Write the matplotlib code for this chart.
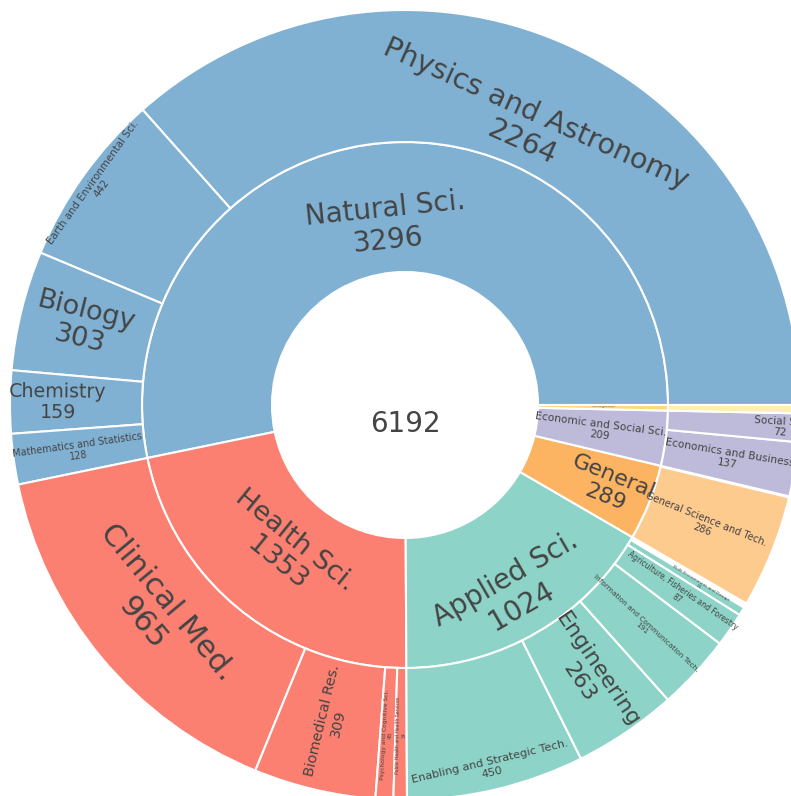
"""Sunburst of research output by field and subfield."""
import matplotlib.pyplot as plt
from matplotlib.patches import Wedge
import numpy as np

# %% Data
fields = [
    "Natural Sci.",
    "Health Sci.",
    "Applied Sci.",
    "General",
    "Economic and Social Sci.",
    "Arts and Humanities",
]
field_values = [3296, 1353, 1024, 289, 209, 21]
field_colors = ["#80B1D3", "#FB8072", "#8DD3C7", "#FDB462", "#BEBADA", "#FDD87E"]

sub_labels = [
    "Physics and Astronomy", "Earth and Environmental Sci.", "Biology",
    "Chemistry", "Mathematics and Statistics",
    "Clinical Med.", "Biomedical Res.", "Psychology and Cognitive Sci.",
    "Public Health and Health Services",
    "Enabling and Strategic Tech.", "Engineering",
    "Information and Communication Tech.",
    "Agriculture, Fisheries and Forestry", "Built Environment and Design",
    "General Science and Tech.",
    "Economics and Business", "Social Sci.",
    "Historical Studies",
]
sub_parents = [
    "Natural Sci.", "Natural Sci.", "Natural Sci.", "Natural Sci.", "Natural Sci.",
    "Health Sci.", "Health Sci.", "Health Sci.", "Health Sci.",
    "Applied Sci.", "Applied Sci.", "Applied Sci.", "Applied Sci.", "Applied Sci.",
    "General",
    "Economic and Social Sci.", "Economic and Social Sci.",
    "Arts and Humanities",
]
sub_values = [2264, 442, 303, 159, 128, 965, 309, 45, 34,
              450, 263, 191, 87, 21, 286, 137, 72, 21]

# leaf colours that differ from their parent
leaf_color_override = {"General Science and Tech.": "#FECB8F",
                       "Historical Studies": "#FFEFB0"}

# %% Styling
r_root, r_mid, r_out = 133, 263, 395
edge_lw = 1.5
txt_col = "#444444"

# label: (orientation, font size pt, radius of text centre)
label_style = {
    "Natural Sci.": ("tan", 20, 181),
    "Health Sci.": ("tan", 19.5, 189),
    "Applied Sci.": ("tan", 20, 217),
    "General": ("rad", 16, 220),
    "Economic and Social Sci.": ("rad", 7.6, 197),
    "Arts and Humanities": ("rad", 1.6, 198),
    "Physics and Astronomy": ("tan", 20.5, 303),
    "Earth and Environmental Sci.": ("tan", 7.4, 378),
    "Biology": ("rad", 19.5, 332),
    "Chemistry": ("rad", 13.7, 347),
    "Mathematics and Statistics": ("rad", 6.9, 330),
    "Clinical Med.": ("tan", 22, 325),
    "Biomedical Res.": ("rad", 10.4, 326),
    "Psychology and Cognitive Sci.": ("rad", 4.3, 330),
    "Public Health and Health Services": ("rad", 3.3, 330),
    "Enabling and Strategic Tech.": ("tan", 8.1, 372),
    "Engineering": ("rad", 16, 327),
    "Information and Communication Tech.": ("rad", 5.3, 325),
    "Agriculture, Fisheries and Forestry": ("rad", 5.5, 334),
    "Built Environment and Design": ("rad", 3.2, 345),
    "General Science and Tech.": ("rad", 7.1, 322),
    "Economics and Business": ("rad", 7.6, 328),
    "Social Sci.": ("rad", 7.6, 376),
}


def norm_rot(rot):
    while rot > 90:
        rot -= 180
    while rot <= -90:
        rot += 180
    return rot


def put_label(ax, label, value, a0, a1):
    if label not in label_style:
        return
    orient, size, r = label_style[label]
    mid = 0.5 * (a0 + a1)
    rot = norm_rot(mid - 90 if orient == "tan" else mid)
    x = r * np.cos(np.radians(mid))
    y = r * np.sin(np.radians(mid))
    ax.text(x, y, f"{label}\n{value}", rotation=rot, rotation_mode="anchor",
            ha="center", va="center", multialignment="center",
            fontsize=size, color=txt_col, linespacing=1.15)


# %% Plot
fig = plt.figure(figsize=(7.91, 7.96), dpi=100)
ax = fig.add_axes([0, 0, 1, 1])
ax.set_xlim(-405, 386)
ax.set_ylim(-391, 405)
ax.set_aspect("equal")
ax.axis("off")

total = sum(field_values)
deg = 360.0 / total

start = 0.0
for fld, fval, fcol in zip(fields, field_values, field_colors):
    a0, a1 = start, start + fval * deg
    ax.add_patch(Wedge((0, 0), r_mid, a0, a1, width=r_mid - r_root,
                       facecolor=fcol, edgecolor="white", lw=edge_lw))
    put_label(ax, fld, fval, a0, a1)

    # children, counter-clockwise from parent start
    s = a0
    for lab, par, val in zip(sub_labels, sub_parents, sub_values):
        if par != fld:
            continue
        b0, b1 = s, s + val * deg
        col = leaf_color_override.get(lab, fcol)
        ax.add_patch(Wedge((0, 0), r_out, b0, b1, width=r_out - r_mid,
                           facecolor=col, edgecolor="white", lw=edge_lw))
        put_label(ax, lab, val, b0, b1)
        s = b1
    start = a1

ax.text(0, -19, f"{total}", ha="center", va="center", fontsize=20, color=txt_col)

fig.savefig("out.png", dpi=100, facecolor="white")
